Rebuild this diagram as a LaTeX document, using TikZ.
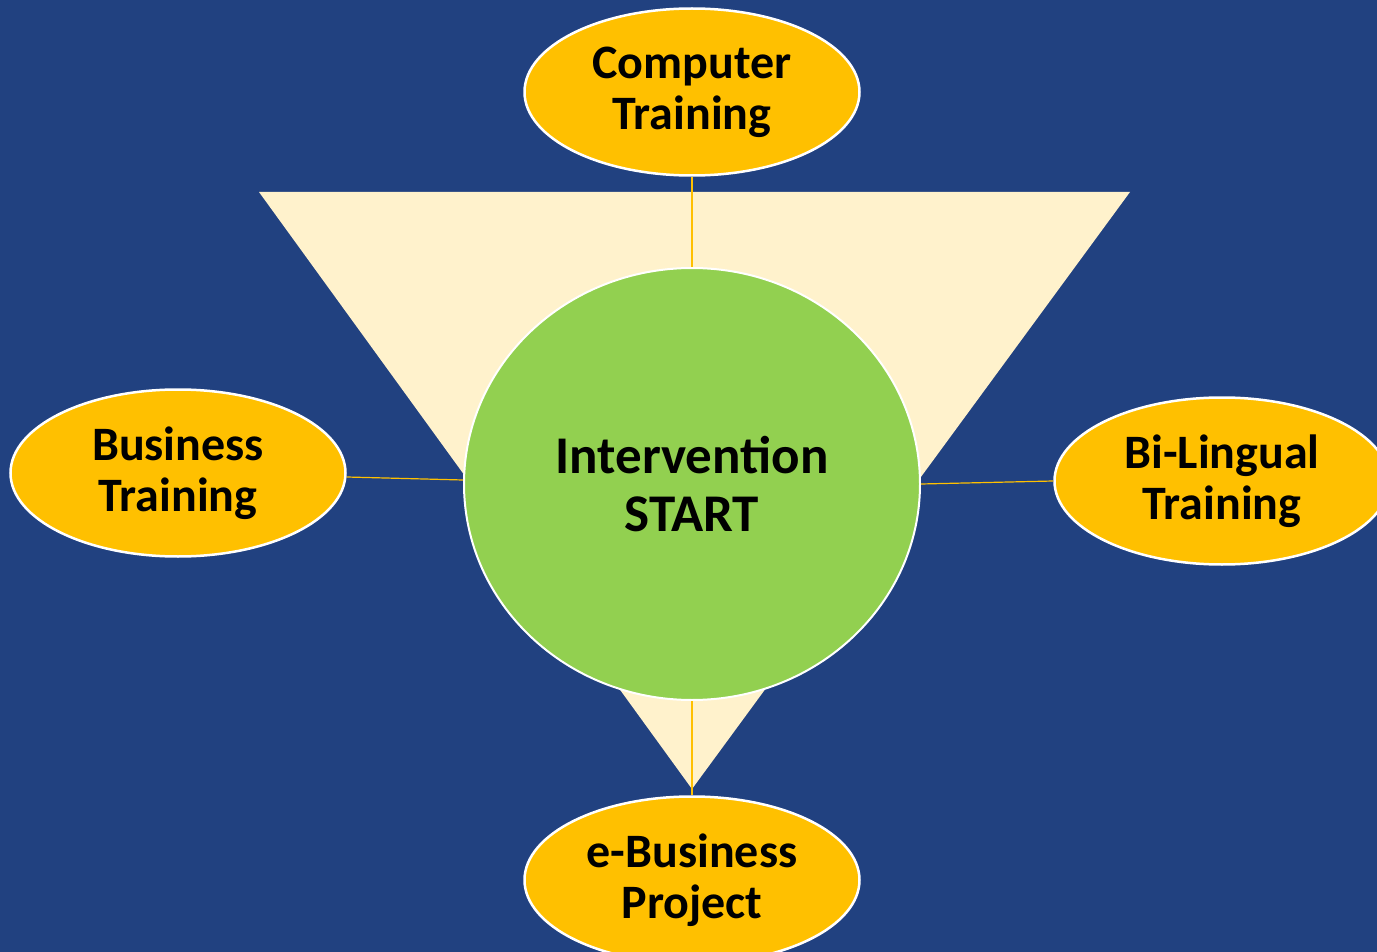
\documentclass[tikz,border=0pt]{standalone}
\usepackage{fontspec}
\setmainfont{Carlito}
\usetikzlibrary{shapes.geometric}
\definecolor{bgblue}{RGB}{33,65,128}
\definecolor{cream}{RGB}{255,242,204}
\definecolor{lgreen}{RGB}{146,208,80}
\definecolor{gold}{RGB}{255,192,0}
\tikzset{
  topic/.style={ellipse, draw=white, line width=2.5pt, fill=gold, minimum width=335pt, minimum height=167pt, inner sep=0pt, align=center, font=\fontsize{48}{51}\selectfont\bfseries, text=black},
  hub/.style={ellipse, draw=white, line width=2pt, fill=lgreen, minimum width=456pt, minimum height=432pt, inner sep=0pt, align=center, font=\fontsize{53}{58}\selectfont\bfseries, text=black},
  link/.style={draw=gold, line width=1.2pt}
}
\begin{document}
\begin{tikzpicture}[x=1pt,y=-1pt]
\fill[bgblue] (0,0) rectangle (1377,952);
\useasboundingbox (0,0) rectangle (1377,952);
\fill[cream] (259,192) -- (1130,192) -- (692,789) -- cycle;
\node[topic] (comp) at (692,92) {Computer\\Training};
\node[topic] (bus) at (178,473) {Business\\Training};
\node[topic] (bil) at (1222,481) {Bi-Lingual\\Training};
\node[topic] (ebus) at (692,880) {e-Business\\Project};
\node[hub] (hub) at (692,484) {Intervention\\START};
\draw[link] (comp) -- (hub);
\draw[link] ([yshift=-4pt]bus.east) -- ([yshift=4pt]hub.west);
\draw[link] (hub.east) -- (bil.west);
\draw[link] (hub.south) -- (ebus.north);
\end{tikzpicture}
\end{document}
